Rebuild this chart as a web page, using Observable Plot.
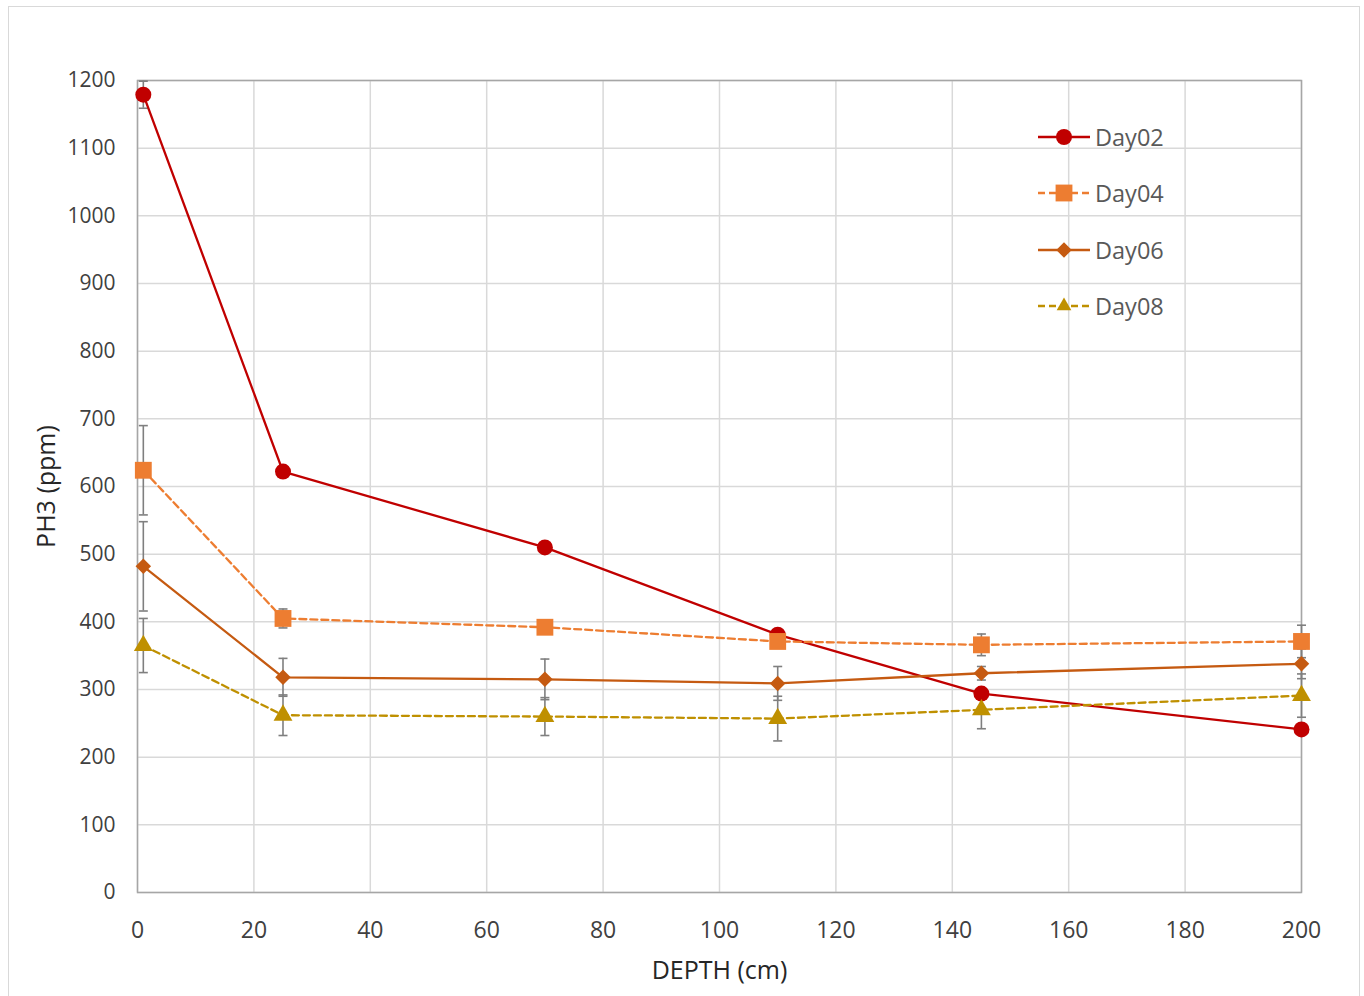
<!DOCTYPE html>
<html>
<head>
<meta charset="utf-8">
<script src="https://cdn.jsdelivr.net/npm/d3@7"></script>
<script src="https://cdn.jsdelivr.net/npm/@observablehq/plot@0.6"></script>
<style>
  body { margin: 0; background: #fff; font-family: "Open Sans", sans-serif; }
  #wrap { position: relative; width: 1364px; height: 996px; }
  #border { position: absolute; left: 8px; top: 6px; width: 1352px; height: 992px; border: 1px solid #d9d9d9; box-sizing: border-box; }
  #chart { position: absolute; left: 0; top: 0; }
  #legend { position: absolute; left: 1036px; top: 120px; font-family: "Open Sans", sans-serif; font-size: 23.5px; color: #595959; }
  .row { height: 56.3px; display: flex; align-items: flex-start; }
  .row svg { margin-right: 3px; }
</style>
</head>
<body>
<div id="wrap">
  <div id="border"></div>
  <div id="chart"></div>
  <div id="legend"></div>
</div>
<script>
const depths = [1, 25, 70, 110, 145, 200];
const seriesNames = ["Day02", "Day04", "Day06", "Day08"];
const day02 = [1179, 622, 510, 381, 294, 241];
const day04 = [624, 405, 392, 371, 366, 371];
const day06 = [482, 318, 315, 309, 324, 338];
const day08 = [365, 262, 260, 257, 270, 291];
const err02 = [20, 6, 6, 6, 6, 6];
const err04 = [66, 14, 6, 8, 16, 24];
const err06 = [66, 28, 30, 25, 10, 22];
const err08 = [40, 30, 28, 33, 28, 32];
const xTicks = [0, 20, 40, 60, 80, 100, 120, 140, 160, 180, 200];
const yTicks = [0, 100, 200, 300, 400, 500, 600, 700, 800, 900, 1000, 1100, 1200];

const colors = {Day02: "#c00000", Day04: "#ed7d31", Day06: "#c55a11", Day08: "#bf9000"};
const dashes = {Day02: null, Day04: "7,4", Day06: null, Day08: "7,4"};
const symbols = {Day02: "circle", Day04: "square", Day06: "diamond2", Day08: "triangle"};
const radii = {Day02: 8, Day04: 9.5, Day06: 7, Day08: 7};

const valueSets = [day02, day04, day06, day08];
const errSets = [err02, err04, err06, err08];
const rows = [];
seriesNames.forEach((s, i) => depths.forEach((d, j) => rows.push({series: s, depth: d, value: valueSets[i][j], err: errSets[i][j]})));

const capSymbol = { draw(ctx, size) { ctx.moveTo(-4.5, 0); ctx.lineTo(4.5, 0); } };

const marks = [
  Plot.gridX(xTicks, {stroke: "#d9d9d9", strokeOpacity: 1, strokeWidth: 1.5}),
  Plot.gridY(yTicks, {stroke: "#d9d9d9", strokeOpacity: 1, strokeWidth: 1.5}),
  Plot.frame({stroke: "#a6a6a6", strokeWidth: 1.5}),
  Plot.axisX({ticks: xTicks, tickSize: 0, tickPadding: 29, fontSize: 23, tickFormat: d => String(d), label: "DEPTH (cm)", labelAnchor: "center", labelArrow: "none", labelOffset: 86, color: "#404040"}),
  Plot.axisY({ticks: yTicks, tickSize: 0, tickPadding: 22, fontSize: 21, tickFormat: d => String(d), label: "PH3 (ppm)", labelAnchor: "center", labelArrow: "none", labelOffset: 100, color: "#404040"})
];
seriesNames.forEach(s => {
  const data = rows.filter(r => r.series === s);
  marks.push(
    Plot.ruleX(data, {x: "depth", y1: d => d.value - d.err, y2: d => d.value + d.err, stroke: "#7f7f7f", strokeWidth: 1.6}),
    Plot.dot(data, {x: "depth", y: d => d.value - d.err, symbol: capSymbol, stroke: "#7f7f7f", strokeWidth: 1.6, r: 3}),
    Plot.dot(data, {x: "depth", y: d => d.value + d.err, symbol: capSymbol, stroke: "#7f7f7f", strokeWidth: 1.6, r: 3})
  );
});
seriesNames.forEach(s => {
  const data = rows.filter(r => r.series === s);
  marks.push(
    Plot.line(data, {x: "depth", y: "value", stroke: colors[s], strokeWidth: 2.3, strokeDasharray: dashes[s]}),
    Plot.dot(data, {x: "depth", y: "value", symbol: symbols[s], fill: colors[s], r: radii[s], stroke: "none"})
  );
});

const chart = Plot.plot({
  width: 1364,
  height: 996,
  marginTop: 80,
  marginRight: 63,
  marginBottom: 104,
  marginLeft: 137,
  style: {fontFamily: "Open Sans, sans-serif", background: "transparent", overflow: "visible"},
  x: {type: "linear", domain: [0, 200]},
  y: {type: "linear", domain: [0, 1200]},
  marks
});
document.getElementById("chart").append(chart);
chart.querySelectorAll("[aria-label='x-axis label'] text, [aria-label='y-axis label'] text").forEach(t => {
  t.setAttribute("font-size", "25");
  t.setAttribute("fill", "#262626");
});

// legend
const legend = document.getElementById("legend");
seriesNames.forEach(s => {
  const row = document.createElement("div");
  row.className = "row";
  const svg = d3.create("svg").attr("width", 56).attr("height", 34);
  svg.append("line").attr("x1", 2).attr("x2", 54).attr("y1", 17).attr("y2", 17)
    .attr("stroke", colors[s]).attr("stroke-width", 2.3).attr("stroke-dasharray", dashes[s]);
  const sym = {circle: d3.symbolCircle, square: d3.symbolSquare, diamond2: d3.symbolDiamond2, triangle: d3.symbolTriangle2}[symbols[s]];
  svg.append("path").attr("transform", "translate(28,17)")
    .attr("d", d3.symbol(sym, Math.PI * radii[s] * radii[s])()).attr("fill", colors[s]);
  row.append(svg.node());
  const label = document.createElement("span");
  label.textContent = s;
  label.style.lineHeight = "34px";
  row.append(label);
  legend.append(row);
});
</script>
</body>
</html>
